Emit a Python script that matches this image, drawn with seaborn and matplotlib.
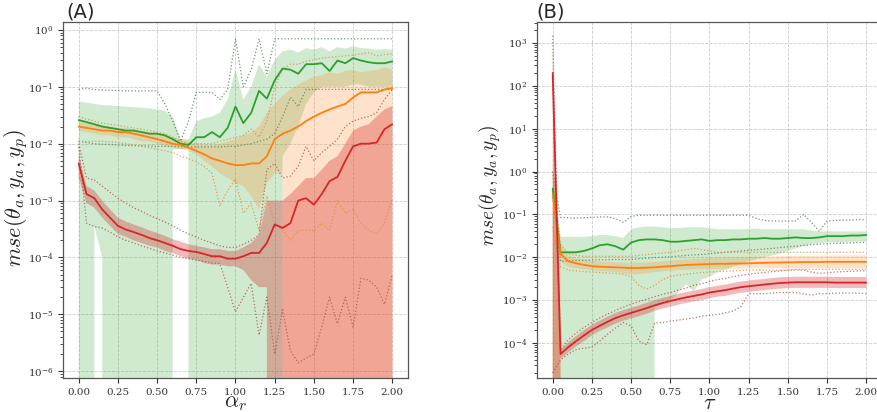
import numpy as np
import pandas as pd
import seaborn as sns
import matplotlib
matplotlib.use("Agg")
import matplotlib.pyplot as plt
from matplotlib.ticker import LogLocator, FixedLocator

# gemeinsames x-Raster (0.00 ... 2.00 in 0.05-Schritten)
alpha_r = np.round(np.arange(41) * 0.05, 2)
tau = np.round(np.arange(41) * 0.05, 2)

# ---------------- Panel A ----------------
green_mean_a = [0.026, 0.024, 0.022, 0.020, 0.019, 0.018, 0.017, 0.017, 0.016, 0.015,
                0.015, 0.014, 0.012, 0.010, 0.0095, 0.013, 0.013, 0.016, 0.013, 0.019,
                0.045, 0.023, 0.035, 0.085, 0.062, 0.13, 0.21, 0.20, 0.17, 0.25,
                0.25, 0.26, 0.19, 0.29, 0.26, 0.32, 0.29, 0.27, 0.26, 0.26, 0.28]
green_hi_a = [0.055, 0.053, 0.050, 0.048, 0.047, 0.046, 0.045, 0.044, 0.043, 0.042,
              0.040, 0.038, 0.030, 0.012, 0.012, 0.025, 0.028, 0.030, 0.035, 0.06,
              0.20, 0.06, 0.10, 0.25, 0.15, 0.30, 0.42, 0.45, 0.40, 0.48,
              0.45, 0.50, 0.42, 0.50, 0.47, 0.52, 0.48, 0.47, 0.45, 0.46, 0.45]
green_lo_a = [0, 0, 3.5e-4, 1.0e-4, 0, 0, 0, 0, 0, 0,
              0, 0, 0.008, 0.008, 0.008, 0, 0, 0, 0, 0,
              0, 0, 0, 0, 0, 0, 0.006, 0.01, 0.02, 0.05,
              0.08, 0.1, 0.1, 0.1, 0.1, 0.11, 0.11, 0.1, 0.1, 0.1, 0.1]
green_max_a = [0.09, 0.095, 0.09, 0.088, 0.087, 0.086, 0.085, 0.085, 0.085, 0.085,
               0.085, 0.05, 0.025, 0.011, 0.025, 0.08, 0.08, 0.08, 0.06, 0.09,
               0.7, 0.1, 0.2, 0.7, 0.17, 0.7, 0.7, 0.7, 0.7, 0.7,
               0.7, 0.7, 0.7, 0.7, 0.7, 0.7, 0.7, 0.7, 0.7, 0.7, 0.7]
green_min_a = [0.011, 0.0105, 0.010, 0.0098, 0.0097, 0.0095, 0.0093, 0.0092, 0.0092, 0.0091,
               0.009, 0.009, 0.009, 0.0088, 0.0088, 0.0088, 0.0088, 0.0088, 0.0088, 0.009,
               0.009, 0.0095, 0.01, 0.011, 0.012, 0.015, 0.03, 0.065, 0.045, 0.09,
               0.09, 0.09, 0.09, 0.09, 0.09, 0.09, 0.09, 0.09, 0.09, 0.09, 0.09]

orange_mean_a = [0.020, 0.019, 0.018, 0.017, 0.017, 0.016, 0.016, 0.015, 0.014, 0.013,
                 0.012, 0.011, 0.010, 0.0095, 0.0085, 0.0075, 0.0065, 0.0055, 0.005, 0.0045,
                 0.0042, 0.0042, 0.0045, 0.0045, 0.006, 0.012, 0.015, 0.017, 0.02, 0.025,
                 0.03, 0.035, 0.04, 0.045, 0.05, 0.065, 0.08, 0.08, 0.08, 0.09, 0.095]
orange_hi_a = [0.024, 0.023, 0.022, 0.021, 0.020, 0.019, 0.019, 0.018, 0.017, 0.016,
               0.015, 0.014, 0.013, 0.012, 0.011, 0.010, 0.0095, 0.0095, 0.010, 0.011,
               0.012, 0.014, 0.016, 0.020, 0.035, 0.05, 0.07, 0.09, 0.11, 0.13,
               0.15, 0.16, 0.18, 0.17, 0.19, 0.20, 0.18, 0.19, 0.20, 0.22, 0.20]
orange_lo_a = [0.017, 0.016, 0.015, 0.014, 0.014, 0.013, 0.013, 0.012, 0.011, 0.011,
               0.010, 0.009, 0.0085, 0.008, 0.0075, 0.0065, 0.005, 0.004, 0.003, 0.0025,
               0.002, 0.0018, 0.0012, 0.0007, 0.002, 0.003, 0.003, 0, 0, 0,
               0, 0, 0, 0, 0, 0, 0, 0, 0, 0, 0]
orange_max_a = [0.03, 0.027, 0.025, 0.023, 0.022, 0.021, 0.02, 0.019, 0.018, 0.017,
                0.016, 0.015, 0.013, 0.011, 0.010, 0.010, 0.010, 0.010, 0.011, 0.012,
                0.013, 0.014, 0.018, 0.013, 0.025, 0.1, 0.2, 0.25, 0.25, 0.28,
                0.3, 0.32, 0.33, 0.34, 0.35, 0.36, 0.38, 0.4, 0.35, 0.37, 0.38]
orange_min_a = [0.011, 0.011, 0.011, 0.011, 0.0108, 0.0105, 0.010, 0.0095, 0.009, 0.0085,
                0.008, 0.0075, 0.007, 0.006, 0.0055, 0.0048, 0.004, 0.003, 0.0008, 0.0015,
                0.0024, 0.0006, 0.0009, 0.0003, 0.0012, 0.0004, 0.0003, 0.0002, 0.0003, 0.0003,
                0.0003, 0.0004, 0.0003, 0.001, 0.0006, 0.0007, 0.0004, 0.0003, 0.00026, 0.0004, 0.0011]

red_mean_a = [4.5e-3, 1.3e-3, 1.1e-3, 7e-4, 5e-4, 3.6e-4, 3.1e-4, 2.8e-4, 2.5e-4, 2.2e-4,
              2.0e-4, 1.8e-4, 1.6e-4, 1.4e-4, 1.3e-4, 1.25e-4, 1.15e-4, 1.05e-4, 1.05e-4, 9.5e-5,
              9.5e-5, 1.05e-4, 1.2e-4, 1.2e-4, 1.8e-4, 3.8e-4, 3.3e-4, 4e-4, 1e-3, 1.1e-3,
              8.5e-4, 1.3e-3, 2.2e-3, 2.6e-3, 5e-3, 9e-3, 1e-2, 1e-2, 1.05e-2, 1.8e-2, 2.2e-2]
red_hi_a = [6.5e-3, 1.8e-3, 1.5e-3, 1.0e-3, 7e-4, 5e-4, 4.3e-4, 3.8e-4, 3.4e-4, 3.0e-4,
            2.7e-4, 2.4e-4, 2.1e-4, 1.9e-4, 1.7e-4, 1.6e-4, 1.5e-4, 1.4e-4, 1.4e-4, 1.3e-4,
            1.3e-4, 1.5e-4, 1.8e-4, 2.5e-4, 1e-3, 1e-3, 1e-3, 1.3e-3, 1.8e-3, 2.5e-3,
            2.5e-3, 3.5e-3, 5e-3, 6e-3, 0.01, 0.017, 0.02, 0.022, 0.03, 0.04, 0.046]
red_lo_a = [2.5e-3, 9e-4, 7.5e-4, 5e-4, 3.6e-4, 2.6e-4, 2.3e-4, 2.0e-4, 1.8e-4, 1.6e-4,
            1.5e-4, 1.3e-4, 1.2e-4, 1.05e-4, 9.5e-5, 9e-5, 8e-5, 7.5e-5, 7.5e-5, 7e-5,
            7e-5, 6e-5, 4e-5, 3e-5, 3e-5, 0, 0, 0, 0, 0,
            0, 0, 0, 0, 0, 0, 0, 0, 0, 0, 0]
red_max_a = [0.01, 2.5e-3, 2.3e-3, 1.8e-3, 1.4e-3, 1.1e-3, 9e-4, 7.5e-4, 6.5e-4, 5.5e-4,
             4.8e-4, 4.2e-4, 3.6e-4, 3e-4, 2.6e-4, 2.3e-4, 2e-4, 1.8e-4, 1.6e-4, 1.5e-4,
             1.5e-4, 1.7e-4, 2e-4, 2.5e-4, 3.5e-3, 4.5e-3, 2.5e-3, 2.7e-3, 4e-3, 9e-3,
             5e-3, 7e-3, 9e-3, 0.012, 0.02, 0.025, 0.028, 0.03, 0.035, 0.06, 0.09]
red_min_a = [8.8e-3, 4e-4, 3.5e-4, 3.3e-4, 2.8e-4, 2.3e-4, 2e-4, 1.8e-4, 1.6e-4, 1.45e-4,
             1.3e-4, 1.2e-4, 1.1e-4, 1e-4, 9.5e-5, 9e-5, 8.5e-5, 8e-5, 7.8e-5, 3e-5,
             1.1e-5, 2e-5, 3.5e-5, 4.3e-6, 2e-5, 2e-6, 1.2e-5, 2.3e-6, 1.4e-6, 1.7e-6,
             2e-6, 6e-6, 2e-5, 6.8e-6, 2e-5, 6e-6, 4.3e-5, 4e-5, 3e-5, 1.5e-5, 5e-5]

# ---------------- Panel B ----------------
green_mean_b = [0.4, 0.013, 0.013, 0.013, 0.014, 0.016, 0.019, 0.02, 0.018, 0.015,
                0.022, 0.025, 0.026, 0.026, 0.025, 0.023, 0.023, 0.024, 0.025, 0.026,
                0.024, 0.025, 0.025, 0.026, 0.026, 0.027, 0.027, 0.028, 0.027, 0.027,
                0.028, 0.029, 0.028, 0.028, 0.029, 0.031, 0.031, 0.031, 0.032, 0.032, 0.033]
green_hi_b = [1.0, 0.03, 0.03, 0.03, 0.03, 0.031, 0.033, 0.033, 0.031, 0.028,
              0.045, 0.05, 0.052, 0.052, 0.05, 0.048, 0.048, 0.05, 0.05, 0.05,
              0.048, 0.045, 0.045, 0.045, 0.045, 0.046, 0.046, 0.045, 0.045, 0.045,
              0.045, 0.045, 0.045, 0.042, 0.04, 0.04, 0.04, 0.04, 0.04, 0.04, 0.04]
green_lo_b = [0, 0, 0, 0, 0, 0, 0, 0, 0, 0,
              0, 0, 0, 7e-4, 8e-4, 1e-3, 1.5e-3, 2.3e-3, 1.6e-3, 3e-3,
              3.5e-3, 4.5e-3, 5e-3, 6e-3, 7e-3, 8e-3, 9e-3, 0.01, 0.011, 0.012,
              0.014, 0.016, 0.018, 0.02, 0.021, 0.022, 0.022, 0.022, 0.023, 0.023, 0.023]
green_max_b = [1.0, 0.085, 0.083, 0.082, 0.083, 0.085, 0.087, 0.087, 0.08, 0.065,
               0.09, 0.095, 0.095, 0.095, 0.095, 0.095, 0.095, 0.095, 0.095, 0.095,
               0.095, 0.095, 0.095, 0.095, 0.095, 0.095, 0.08, 0.072, 0.07, 0.07,
               0.07, 0.07, 0.1, 0.065, 0.04, 0.07, 0.072, 0.073, 0.074, 0.075, 0.075]
green_min_b = [0.3, 0.008, 0.0082, 0.0084, 0.0085, 0.0086, 0.0087, 0.0087, 0.0088, 0.0088,
               0.0088, 0.0092, 0.0095, 0.0098, 0.01, 0.0103, 0.0106, 0.011, 0.0113, 0.0116,
               0.012, 0.0125, 0.013, 0.0135, 0.014, 0.0145, 0.015, 0.0155, 0.016, 0.0168,
               0.0175, 0.018, 0.019, 0.0195, 0.02, 0.0205, 0.021, 0.0213, 0.0216, 0.022, 0.022]

orange_mean_b = [0.3, 0.012, 0.008, 0.0072, 0.0066, 0.0062, 0.006, 0.0059, 0.0058, 0.0057,
                 0.0056, 0.0056, 0.0057, 0.0058, 0.006, 0.0062, 0.0064, 0.0066, 0.0067, 0.0068,
                 0.0069, 0.007, 0.007, 0.0071, 0.0071, 0.0072, 0.0073, 0.0074, 0.0075, 0.0075,
                 0.0076, 0.0076, 0.0077, 0.0077, 0.0077, 0.0078, 0.0078, 0.0078, 0.0078, 0.0078, 0.0078]
orange_hi_b = [1.0, 0.02, 0.011, 0.0095, 0.0088, 0.0083, 0.008, 0.0078, 0.0076, 0.0075,
               0.0074, 0.0074, 0.0075, 0.0077, 0.008, 0.0083, 0.0086, 0.0089, 0.0091, 0.0093,
               0.0095, 0.0097, 0.0098, 0.0099, 0.01, 0.0101, 0.0102, 0.0103, 0.0104, 0.0105,
               0.0106, 0.0107, 0.0108, 0.0108, 0.0109, 0.0109, 0.011, 0.011, 0.011, 0.011, 0.011]
orange_lo_b = [0, 0.008, 0.006, 0.0055, 0.0052, 0.005, 0.0048, 0.0046, 0.0045, 0.0042,
               0.004, 0.004, 0.0042, 0.0045, 0.0047, 0.0048, 0.005, 0.0051, 0.0052, 0.0052,
               0.0053, 0.0053, 0.0054, 0.0054, 0.0054, 0.0055, 0.0055, 0.0055, 0.0055, 0.0055,
               0.0055, 0.0055, 0.0055, 0.0055, 0.0055, 0.0055, 0.0055, 0.0055, 0.0055, 0.0055, 0.0055]
orange_max_b = [1.0, 0.02, 0.012, 0.011, 0.0105, 0.0105, 0.0105, 0.0105, 0.0105, 0.0105,
                0.0105, 0.011, 0.0115, 0.012, 0.0125, 0.013, 0.014, 0.015, 0.016, 0.015,
                0.014, 0.013, 0.013, 0.013, 0.013, 0.013, 0.013, 0.013, 0.013, 0.013,
                0.013, 0.013, 0.013, 0.013, 0.013, 0.013, 0.013, 0.013, 0.013, 0.013, 0.013]
orange_min_b = [0.05, 0.006, 0.005, 0.0048, 0.0046, 0.0045, 0.0044, 0.0043, 0.0042, 0.004,
                0.0035, 0.0022, 0.0018, 0.0022, 0.003, 0.0035, 0.0038, 0.004, 0.0042, 0.0044,
                0.0045, 0.0046, 0.0047, 0.0048, 0.0049, 0.005, 0.005, 0.005, 0.005, 0.005,
                0.005, 0.0052, 0.0052, 0.0052, 0.0052, 0.0052, 0.0052, 0.0052, 0.0052, 0.0052, 0.0052]

red_mean_b = [200, 5.5e-5, 8e-5, 1.1e-4, 1.5e-4, 2e-4, 2.5e-4, 3.1e-4, 3.8e-4, 4.4e-4,
              5e-4, 5.7e-4, 6.5e-4, 7.5e-4, 8.5e-4, 9.5e-4, 1.05e-3, 1.15e-3, 1.25e-3, 1.35e-3,
              1.5e-3, 1.6e-3, 1.7e-3, 1.85e-3, 2e-3, 2.1e-3, 2.2e-3, 2.3e-3, 2.4e-3, 2.5e-3,
              2.55e-3, 2.6e-3, 2.6e-3, 2.6e-3, 2.6e-3, 2.6e-3, 2.55e-3, 2.55e-3, 2.55e-3, 2.55e-3, 2.55e-3]
red_hi_b = [1000, 7e-5, 1.05e-4, 1.45e-4, 2e-4, 2.65e-4, 3.3e-4, 4.1e-4, 5e-4, 5.8e-4,
            6.6e-4, 7.5e-4, 8.6e-4, 9.9e-4, 1.12e-3, 1.25e-3, 1.4e-3, 1.52e-3, 1.65e-3, 1.8e-3,
            2e-3, 2.15e-3, 2.3e-3, 2.5e-3, 2.7e-3, 2.85e-3, 3e-3, 3.1e-3, 3.25e-3, 3.4e-3,
            3.45e-3, 3.5e-3, 3.5e-3, 3.5e-3, 3.5e-3, 3.5e-3, 3.45e-3, 3.45e-3, 3.45e-3, 3.45e-3, 3.45e-3]
red_lo_b = [0, 4.2e-5, 6e-5, 8.3e-5, 1.1e-4, 1.5e-4, 1.9e-4, 2.3e-4, 2.8e-4, 3.3e-4,
            3.7e-4, 4.2e-4, 4.8e-4, 5.6e-4, 6.3e-4, 7e-4, 7.8e-4, 8.5e-4, 9.3e-4, 1e-3,
            1.1e-3, 1.2e-3, 1.25e-3, 1.37e-3, 1.48e-3, 1.55e-3, 1.63e-3, 1.7e-3, 1.78e-3, 1.85e-3,
            1.9e-3, 1.93e-3, 1.93e-3, 1.93e-3, 1.93e-3, 1.93e-3, 1.9e-3, 1.9e-3, 1.9e-3, 1.9e-3, 1.9e-3]
red_max_b = [1500, 7e-5, 1.2e-4, 1.7e-4, 2.3e-4, 3e-4, 3.8e-4, 4.7e-4, 5.7e-4, 6.8e-4,
             8e-4, 9.2e-4, 1.05e-3, 1.2e-3, 1.35e-3, 1.5e-3, 1.7e-3, 1.9e-3, 2.2e-3, 2.4e-3,
             2.7e-3, 3e-3, 3.2e-3, 3.5e-3, 3.8e-3, 4e-3, 4.2e-3, 4.4e-3, 4.6e-3, 4.8e-3,
             5e-3, 5e-3, 5e-3, 4.5e-3, 4.2e-3, 4.3e-3, 4.5e-3, 4.6e-3, 4.7e-3, 4.8e-3, 4.8e-3]
red_min_b = [2e-5, 4e-5, 5.5e-5, 7e-5, 7.5e-5, 8e-5, 1.1e-4, 1.6e-4, 2.2e-4, 3e-4,
             2.5e-4, 1.1e-4, 9e-5, 2.9e-4, 3e-4, 3.2e-4, 3.4e-4, 3.6e-4, 3.8e-4, 4.2e-4,
             4.4e-4, 4.6e-4, 5e-4, 5.5e-4, 7e-4, 1.4e-3, 1.4e-3, 1.4e-3, 1.45e-3, 1.5e-3,
             1.5e-3, 1.5e-3, 1.4e-3, 1.3e-3, 1.4e-3, 1.4e-3, 1.45e-3, 1.45e-3, 1.45e-3, 1.45e-3, 1.4e-3]

xtick_labels = ["0.00", "0.25", "0.50", "0.75", "1.00", "1.25", "1.50", "1.75", "2.00"]

sns.set_style("ticks")
plt.rcParams['font.family'] = ['DejaVu Sans']

farben = {'green': '#2ca02c', 'orange': '#ff7f0e', 'red': '#d62728'}
punkt_farben = {'green': '#4f7f4f', 'orange': '#e08a3a', 'red': '#b0504a'}
fill_alpha = {'green': 0.22, 'orange': 0.22, 'red': 0.32}


def panel(ax, x, daten, ylim, xlabel):
    ax.set_yscale('log')
    for name in ['green', 'orange', 'red']:
        d = daten[name]
        ax.fill_between(x, d['lo'], d['hi'], color=farben[name], alpha=fill_alpha[name], lw=0)

    grenzen = []
    mittel = []
    for name, d in daten.items():
        grenzen.append(pd.DataFrame({'x': x, 'mse': d['max'], 'serie': name, 'grenze': 'max'}))
        grenzen.append(pd.DataFrame({'x': x, 'mse': d['min'], 'serie': name, 'grenze': 'min'}))
        mittel.append(pd.DataFrame({'x': x, 'mse': d['mean'], 'serie': name}))
    df_grenzen = pd.concat(grenzen, ignore_index=True)
    df_mittel = pd.concat(mittel, ignore_index=True)

    sns.lineplot(data=df_grenzen, x='x', y='mse', hue='serie', units='grenze', estimator=None,
                 palette=punkt_farben, ls=':', lw=0.9, alpha=0.8, legend=False, ax=ax)
    sns.lineplot(data=df_mittel, x='x', y='mse', hue='serie', palette=farben,
                 lw=1.3, legend=False, ax=ax)

    ax.set_xlim(-0.1, 2.1)
    ax.set_ylim(*ylim)
    ax.xaxis.set_major_locator(FixedLocator(np.arange(9) * 0.25))
    ax.set_xticklabels(xtick_labels)
    ax.yaxis.set_major_locator(LogLocator(base=10, numticks=20))
    ax.yaxis.set_minor_locator(LogLocator(base=10, subs=np.arange(2, 10), numticks=20))
    ax.tick_params(axis='both', which='major', labelsize=7.5, length=3.5, colors='#333333')
    ax.tick_params(axis='y', which='minor', length=2, colors='#333333')
    for lab in ax.get_xticklabels() + ax.get_yticklabels():
        lab.set_family('DejaVu Serif')
    ax.grid(True, which='major', ls='--', lw=0.6, color='#cccccc')
    for s in ax.spines.values():
        s.set_color('#555555')
        s.set_linewidth(0.9)
    ax.set_xlabel(xlabel, fontsize=16, math_fontfamily='cm', va='center')
    ax.xaxis.set_label_coords(0.5, -0.069)
    ax.set_ylabel('')


daten_a = {
    'green': {'mean': green_mean_a, 'lo': green_lo_a, 'hi': green_hi_a, 'min': green_min_a, 'max': green_max_a},
    'orange': {'mean': orange_mean_a, 'lo': orange_lo_a, 'hi': orange_hi_a, 'min': orange_min_a, 'max': orange_max_a},
    'red': {'mean': red_mean_a, 'lo': red_lo_a, 'hi': red_hi_a, 'min': red_min_a, 'max': red_max_a},
}
daten_b = {
    'green': {'mean': green_mean_b, 'lo': green_lo_b, 'hi': green_hi_b, 'min': green_min_b, 'max': green_max_b},
    'orange': {'mean': orange_mean_b, 'lo': orange_lo_b, 'hi': orange_hi_b, 'min': orange_min_b, 'max': orange_max_b},
    'red': {'mean': red_mean_b, 'lo': red_lo_b, 'hi': red_hi_b, 'min': red_min_b, 'max': red_max_b},
}

fig = plt.figure(figsize=(8.78, 4.12), dpi=100)
ax_a = fig.add_axes([63 / 878, 34 / 412, 345 / 878, 356 / 412])
ax_b = fig.add_axes([537 / 878, 34 / 412, 345 / 878, 356 / 412])

panel(ax_a, alpha_r, daten_a, (10 ** -6.12, 10 ** 0.14), r'$\alpha_r$')
panel(ax_b, tau, daten_b, (10 ** -4.82, 10 ** 3.49), r'$\tau$')

ylab = r'$mse(\theta_a, y_a, y_p)$'
fig.text(16 / 878, 1 - 198 / 412, ylab, rotation=90, fontsize=16, math_fontfamily='cm',
         ha='center', va='center')
fig.text(490 / 878, 1 - 185 / 412, ylab, rotation=90, fontsize=14, math_fontfamily='cm',
         ha='center', va='center')

fig.text(66 / 878, 1 - 18 / 412, '(A)', fontsize=14, va='baseline')
fig.text(536 / 878, 1 - 18 / 412, '(B)', fontsize=14, va='baseline')

fig.savefig('out.png', dpi=100)
